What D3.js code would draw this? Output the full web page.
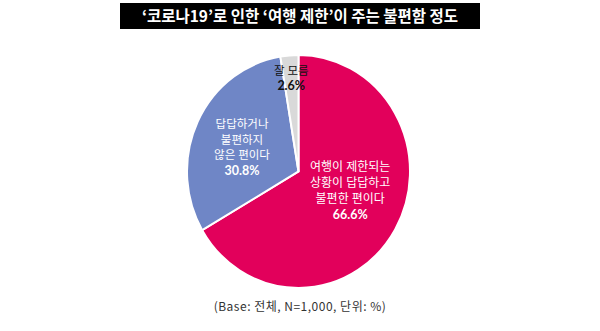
<!DOCTYPE html>
<html>
<head>
<meta charset="utf-8">
<script src="https://cdn.jsdelivr.net/npm/d3@7"></script>
<style>
  html, body { margin: 0; padding: 0; background: #ffffff; }
  svg { display: block; }
  text { font-family: "Noto Sans CJK KR", "Noto Sans", sans-serif; }
  .lbl { font-family: "Lato", "Noto Sans CJK KR", sans-serif; }
</style>
</head>
<body>
<script>
const title = "‘코로나19’로 인한 ‘여행 제한’이 주는 불편함 정도";
const categories = ["여행이 제한되는|상황이 답답하고|불편한 편이다", "답답하거나|불편하지|않은 편이다", "잘 모름"];
const values = [66.6, 30.8, 2.6];
const colors = ["#e2005b", "#6f86c6", "#d9d9d9"];
const labelColors = ["#ffffff", "#ffffff", "#111111"];
const footnote = "(Base: 전체, N=1,000, 단위: %)";

const W = 600, H = 331;
const svg = d3.select("body").append("svg").attr("width", W).attr("height", H);

// Title bar
svg.append("rect").attr("x", 120).attr("y", 3).attr("width", 360).attr("height", 26).attr("fill", "#000");
svg.append("text").attr("x", 300).attr("y", 22).attr("text-anchor", "middle")
  .attr("fill", "#fff").attr("font-size", 15.5).attr("font-weight", "bold").text(title);

// Pie
const cx = 298.5, cy = 171.5, r = 111.5, ry = 116.5;
const k = ry / r;
const g = svg.append("g").attr("transform", `translate(${cx},${cy}) scale(1,${k})`);
const pie = d3.pie().sort(null).value(d => d)(values);
const arc = d3.arc().innerRadius(0).outerRadius(r);
g.selectAll("path").data(pie).join("path")
  .attr("d", arc)
  .attr("fill", (d, i) => colors[i])
  .attr("stroke", "#fff").attr("stroke-width", 2).attr("stroke-linejoin", "miter");

// Labels
const labelR = [55, 61, 89];
const labelAdj = [-10, -3, 0];
const fontSizes = [12, 11.5, 11.5];
const lineH = [16, 15.6, 15];
const labels = svg.append("g");
pie.forEach((d, i) => {
  const a = (d.startAngle + d.endAngle) / 2 + labelAdj[i] * Math.PI / 180;
  const lx = cx + Math.sin(a) * labelR[i];
  const ly = cy - Math.cos(a) * labelR[i] * k;
  const lines = categories[i].split("|");
  const lh = lineH[i];
  const total = lines.length * lh;
  const y0 = ly - total / 2 + 4;
  lines.forEach((ln, j) => {
    labels.append("text").attr("class", "lbl").attr("text-anchor", "middle")
      .attr("fill", labelColors[i]).attr("x", lx).attr("y", y0 + j * lh)
      .attr("font-size", fontSizes[i]).text(ln);
  });
  labels.append("text").attr("class", "lbl").attr("text-anchor", "middle")
    .attr("fill", labelColors[i]).attr("x", lx).attr("y", y0 + lines.length * lh)
    .attr("font-size", 12.5).attr("font-weight", "bold")
    .text(d3.format(".1f")(values[i]) + "%");
});

// Footnote
svg.append("text").attr("x", 300).attr("y", 311).attr("text-anchor", "middle")
  .attr("fill", "#333").attr("font-size", 12).attr("letter-spacing", 0.5).text(footnote);
</script>
</body>
</html>
